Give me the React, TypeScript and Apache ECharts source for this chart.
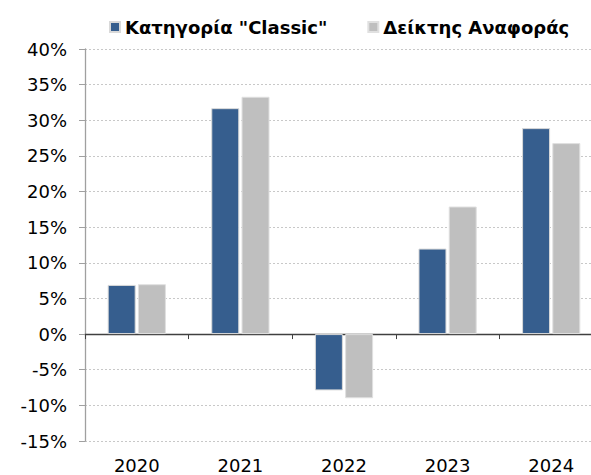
import React, { useEffect, useRef } from "react";
import * as echarts from "echarts";

const categories = ["2020", "2021", "2022", "2023", "2024"];
const classicValues = [6.9, 31.7, -7.9, 12.0, 28.9];
const benchmarkValues = [7.0, 33.3, -9.0, 17.9, 26.8];
const seriesNames = ['Κατηγορία "Classic"', "Δείκτης Αναφοράς"];

export default function App() {
  const ref = useRef<HTMLDivElement>(null);
  useEffect(() => {
    if (!ref.current) return;
    const chart = echarts.init(ref.current, null, { renderer: "svg" });
    const font = "DejaVu Sans";
    chart.setOption({
      animation: false,
      backgroundColor: "#ffffff",
      textStyle: { fontFamily: font },
      legend: {
        top: 13,
        left: 104,
        itemWidth: 10,
        itemHeight: 10,
        itemGap: 40,
        icon: "rect",
        textStyle: { fontFamily: font, fontWeight: "bold", fontSize: 18, color: "#000" },
        data: seriesNames,
      },
      grid: { left: 85, right: 0, top: 49, bottom: 34, containLabel: false },
      xAxis: [
        {
          type: "category",
          data: categories,
          axisLine: { onZero: true, lineStyle: { color: "#404040", width: 1.3 } },
          axisTick: { show: true, length: 5, lineStyle: { color: "#404040" } },
          axisLabel: { show: false },
          splitLine: { show: false },
        },
        {
          type: "category",
          data: categories,
          position: "bottom",
          axisLine: { show: false, onZero: false },
          axisTick: { show: false },
          axisLabel: { show: true, fontFamily: font, fontSize: 18, color: "#000", margin: 15 },
        },
      ],
      yAxis: {
        type: "value",
        min: -15,
        max: 40,
        interval: 5,
        axisLine: { show: true, lineStyle: { color: "#a0a0a0", width: 1.3 } },
        axisTick: { show: true, length: 6, lineStyle: { color: "#a0a0a0" } },
        axisLabel: { formatter: "{value}%", fontFamily: font, fontSize: 18, color: "#000", margin: 18 },
        splitLine: { show: true, lineStyle: { color: "#c8c8c8", type: [2, 2], width: 1 } },
      },
      series: [
        {
          name: seriesNames[0],
          type: "bar",
          xAxisIndex: 0,
          data: classicValues,
          barWidth: 28,
          barGap: "8%",
          itemStyle: { color: "#365e8e", borderColor: "#d9d9d9", borderWidth: 1 },
        },
        {
          name: seriesNames[1],
          type: "bar",
          xAxisIndex: 0,
          data: benchmarkValues,
          barWidth: 28,
          barGap: "8%",
          itemStyle: { color: "#bfbfbf", borderColor: "#e0e0e0", borderWidth: 1 },
        },
      ],
    });
    return () => chart.dispose();
  }, []);
  return (
    <div style={{ position: "absolute", left: 0, top: 0, width: 591, height: 475, overflow: "hidden" }}>
      <div ref={ref} style={{ width: 603, height: 475 }} />
    </div>
  );
}
